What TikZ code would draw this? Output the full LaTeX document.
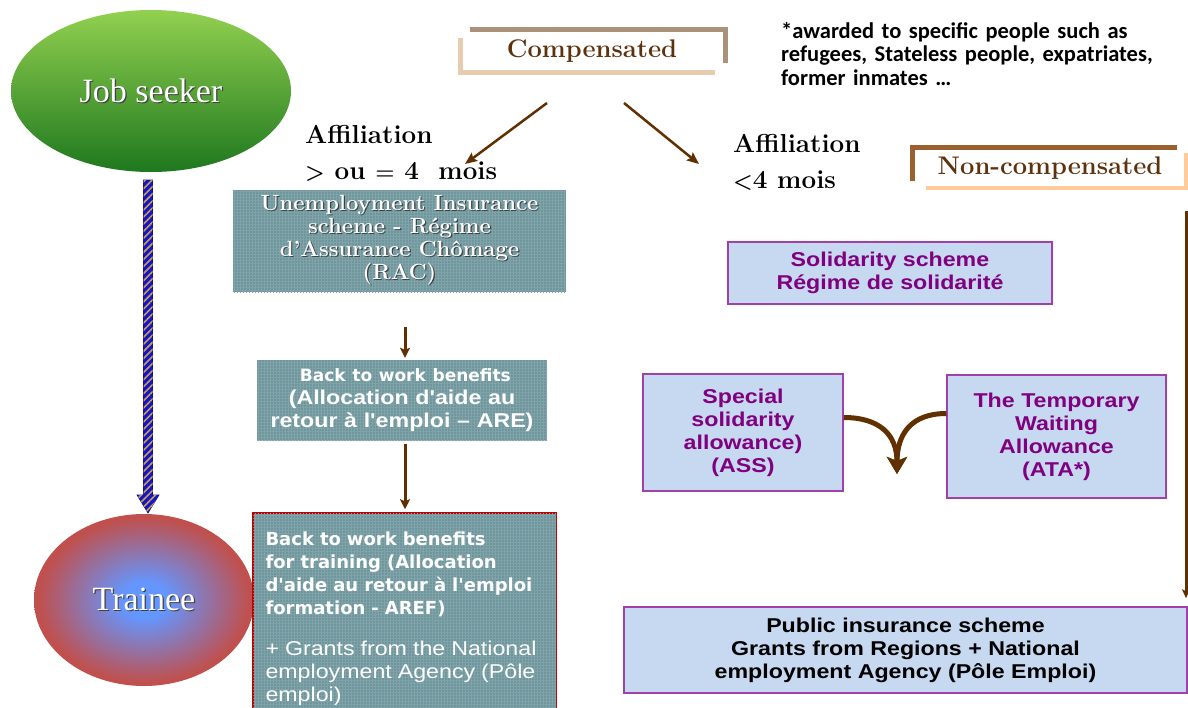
\documentclass[tikz,border=0pt]{standalone}
\usepackage{fontspec}
\usetikzlibrary{positioning,shapes.geometric,arrows.meta,patterns.meta,calc}
\newfontfamily\arialfont[FakeStretch=1.16]{Liberation Sans}
\newfontfamily\timesfont{Liberation Serif}
\newfontfamily\verdanafont{DejaVu Sans}
\newfontfamily\calibrifont{Carlito}
\definecolor{jobtop}{RGB}{146,208,80}
\definecolor{jobmid}{RGB}{152,186,104}
\definecolor{jobbot}{RGB}{30,120,30}
\definecolor{trblue}{RGB}{100,150,255}
\definecolor{trred}{RGB}{192,80,77}
\definecolor{arrowblue}{RGB}{20,20,200}
\definecolor{stripe}{RGB}{200,160,80}
\definecolor{compdark}{RGB}{170,146,122}
\definecolor{complight}{RGB}{232,204,176}
\definecolor{ncdark}{RGB}{154,96,46}
\definecolor{nclight}{RGB}{255,204,153}
\definecolor{titlebrown}{RGB}{92,50,14}
\definecolor{arrowbrown}{RGB}{96,48,0}
\definecolor{tealbox}{RGB}{111,150,157}
\definecolor{tealgrid}{RGB}{128,164,170}
\definecolor{bluebox}{RGB}{198,217,241}
\definecolor{boxpurple}{RGB}{160,64,168}
\definecolor{textpurple}{RGB}{128,0,128}
\definecolor{redline}{RGB}{192,0,0}
\pgfdeclareradialshading{traineeshade}{\pgfpoint{0bp}{0bp}}{color(0bp)=(trblue); color(5bp)=(trblue); color(24bp)=(trred); color(50bp)=(trred)}
\newcommand\pxsize[1]{\fontsize{#1}{23}\selectfont}
\newcommand\shtext[1]{\makebox[0pt][l]{\kern1.2pt\raisebox{-1.2pt}{\color{black!75}#1}}#1}
\newcommand\smallsign[1]{{\pxsize{22}#1}}

\begin{document}
\begin{tikzpicture}[x=1pt, y=-1pt,
    seeker node/.style={ellipse, text=white, font=\timesfont\pxsize{34}},
    title node/.style={minimum height=40pt, text=titlebrown, font=\bfseries\pxsize{25.5}},
    label node/.style={anchor=base west, font=\bfseries\pxsize{26}},
    teal node/.style={fill=tealbox, postaction={pattern={Hatch[angle=0,distance=3pt,line width=0.4pt]}, pattern color=tealgrid}, text=white},
    scheme node/.style={draw=boxpurple, line width=1.5pt, fill=bluebox, align=center, font=\arialfont\bfseries\pxsize{20}},
    brown arrow/.style={color=arrowbrown, line width=3pt, -{Stealth[length=10pt,width=10pt,inset=2pt]}},
    curve arrow/.style={color=arrowbrown, line width=5pt, -{Stealth[length=17pt,width=20pt,inset=4pt]}}]
  \tikzstyle{every node}=[inner sep=0pt]
  \useasboundingbox (0,0) rectangle (1188,707);

  % ellipses
  \node[seeker node, minimum width=280pt, minimum height=162pt, top color=jobtop, middle color=jobmid, bottom color=jobbot] (1) at (151,91) {\shtext{Job seeker}};
  \node[seeker node, minimum width=220pt, minimum height=172pt, shading=traineeshade] (2) at (144,600) {\shtext{Trainee}};

  % titles with their frames
  \node[title node, minimum width=265pt] (3) at (592,51) {Compensated};
  \draw[compdark, line width=5pt] (470,29) -- (725,29) -- (725,63);
  \draw[complight, line width=5pt] (460,38) -- (460,72) -- (715,72);
  \node[title node, minimum width=274pt] (4) at (1050,168) {Non-compensated};
  \draw[ncdark, line width=5pt] (912,181) -- (912,147) -- (1177,147);
  \draw[nclight, line width=4pt] (926,188) -- (1186,188) -- (1186,153);

  \node[label node] (5) at (305,143) {Affiliation};
  \node[label node] (6) at (305,179) {\smallsign{>} ou \smallsign{=} 4~ mois};
  \node[label node] (7) at (733,152) {Affiliation};
  \node[label node] (8) at (733,188) {\smallsign{<}4 mois};

  \node[anchor=north west, text width=420pt, align=left, font=\calibrifont\bfseries\fontsize{22.5}{23.5}\selectfont] (9) at (781,22)
    {*awarded to specific people such as\\ refugees, Stateless people, expatriates,\\ former inmates …};

  % compensated column
  \node[teal node, minimum width=333pt, minimum height=102pt, align=center, font=\bfseries\pxsize{22}] (10) at (399.5,241)
    {\shtext{Unemployment Insurance}\\ \shtext{scheme - Régime}\\ \shtext{d’Assurance Chômage}\\ \shtext{(RAC)}};
  \node[teal node, minimum width=290pt, minimum height=80pt, text width=280pt, align=center, font=\pxsize{20}] (11) at (402,400)
    {{\verdanafont\bfseries\pxsize{17} Back to work benefits}\\ {\arialfont\bfseries (Allocation d'aide au\\ retour à l'emploi – ARE)}};
  \node[teal node, draw=redline, line width=1.5pt, minimum width=303pt, minimum height=212pt, text width=278pt, align=left, font=\pxsize{18}] (12) at (404.5,619)
    {{\verdanafont\bfseries Back to work benefits\\ for training (Allocation\\ d'aide au retour à l'emploi\\ formation - AREF)}\\[18pt]
     {\arialfont\pxsize{20} + Grants from the National\\ employment Agency (Pôle\\ emploi)}};

  % non-compensated column
  \node[scheme node, minimum width=324pt, minimum height=62pt, text=textpurple] (13) at (890,273) {Solidarity scheme\\ Régime de solidarité};
  \node[scheme node, minimum width=200pt, minimum height=117pt, text=textpurple] (14) at (743,432.5) {Special\\ solidarity\\ allowance)\\ (ASS)};
  \node[scheme node, minimum width=219pt, minimum height=123pt, text=textpurple] (15) at (1056.5,436.5) {The Temporary\\ Waiting\\ Allowance\\ (ATA*)};
  \node[scheme node, minimum width=563pt, minimum height=86pt, text=black] (16) at (905.5,650) {Public insurance scheme\\ Grants from Regions + National\\ employment Agency (Pôle Emploi)};

  % connectors
  \coordinate (c1) at (547,103);
  \coordinate (c2) at (465,164);
  \coordinate (c3) at (624,103);
  \coordinate (c4) at (699,164);
  \coordinate (a1) at (405,327);
  \coordinate (a2) at (405,444);
  \coordinate (nc) at (1186,211);
  \coordinate (t) at (897,474);
  \coordinate (b1) at (148,180);
  \coordinate (b2) at (148,513);

  \path[brown arrow, line width=2.5pt, -{Stealth[length=12pt,width=10pt,inset=2pt]}]
    (c1) edge (c2)
    (c3) edge (c4);
  \path[brown arrow]
    (a1) edge[shorten >=2pt] (a1 |- 11.north)
    (a2) edge[shorten >=3pt] (a2 |- 12.north);
  \draw[brown arrow, -{Stealth[length=9pt,width=8pt,inset=2pt]}, shorten >=8pt] (nc) -- (nc |- 16.north);
  \draw[curve arrow] ($(14.east)+(0,-15)$) .. controls +(35,0) and +(0,-40) .. (t);
  \draw[curve arrow] ($(15.west)+(0,-23)$) .. controls +(-35,0) and +(0,-40) .. (t);

  % striped arrow from job seeker to trainee
  \path[fill=arrowblue, draw=arrowblue!70!black, line width=0.6pt, postaction={pattern={Lines[angle=45,distance=5pt,line width=1.6pt]}, pattern color=stripe}]
    ($(b1)+(-4.5,0)$) -- ($(b1)+(4.5,0)$) -- ($(b2)+(4.5,-18)$) -- ($(b2)+(11,-18)$) -- (b2)
    -- ($(b2)+(-11,-18)$) -- ($(b2)+(-4.5,-18)$) -- cycle;
\end{tikzpicture}
\end{document}
